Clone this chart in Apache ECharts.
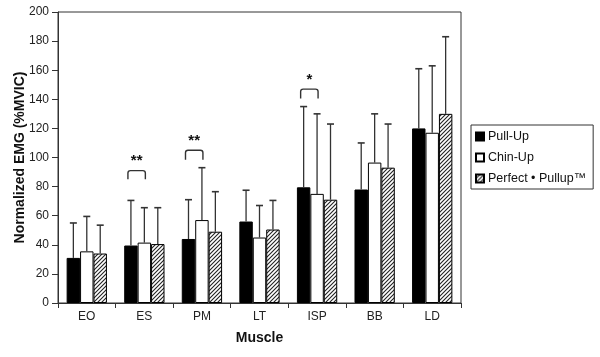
<!DOCTYPE html>
<html><head><meta charset="utf-8">
<script src="https://cdn.jsdelivr.net/npm/echarts@6/dist/echarts.min.js"></script>
<style>html,body{margin:0;padding:0;background:#fff}#c{width:600px;height:357px}</style>
</head><body><div id="c"></div>
<script>
const categories = ['EO','ES','PM','LT','ISP','BB','LD'];
const seriesNames = ['Pull-Up','Chin-Up','Perfect \u2022 Pullup\u2122'];
const pullUp = [31, 39.5, 44, 56, 79.5, 78, 120];
const chinUp = [35.5, 41.5, 57, 45, 75, 96.5, 117];
const perfect = [34, 40.5, 49, 50.5, 71, 93, 130];
const pullUpErr = [55, 70.5, 71, 77.5, 135, 110, 161];
const chinUpErr = [59.5, 65.5, 93, 67, 130, 130, 163];
const perfectErr = [53.5, 65.5, 76.5, 70.5, 123, 123, 183];
// significance brackets
const sigCats = [1, 2, 4];
const sigTop = [91, 105, 147];
const sigBottom = [85, 98.5, 140.5];
const sigLabels = ['**', '**', '*'];
const yTicks = {min: 0, max: 200, interval: 20};

const hatch = document.createElement('canvas');
hatch.width = 4; hatch.height = 4;
(function(){
  const g = hatch.getContext('2d');
  g.fillStyle = '#fff'; g.fillRect(0,0,4,4);
  g.strokeStyle = '#222'; g.lineWidth = 1.1;
  g.beginPath();
  g.moveTo(-1,5); g.lineTo(5,-1);
  g.moveTo(-1,1); g.lineTo(1,-1);
  g.moveTo(3,5); g.lineTo(5,3);
  g.stroke();
})();

const fills = ['#000', '#fff', {image: hatch, repeat: 'repeat'}];
const means = [pullUp, chinUp, perfect];
const errs = [pullUpErr, chinUpErr, perfectErr];
const GAP = 0.3;

const series = [];
seriesNames.forEach((n, k) => {
  series.push({
    name: n, type: 'bar', data: means[k],
    barGap: '0%', barCategoryGap: (GAP*100)+'%',
    itemStyle: {color: fills[k], borderColor: '#000', borderWidth: 1},
    z: 2
  });
});
seriesNames.forEach((n, k) => {
  series.push({
    type: 'custom', z: 3, silent: true,
    data: categories.map((c, i) => [i, means[k][i], errs[k][i]]),
    renderItem: function(params, api){
      const bw = api.size([1,0])[0];
      const barW = bw*(1-GAP)/3;
      const off = (k-1)*barW;
      const p0 = api.coord([api.value(0), api.value(1)]);
      const p1 = api.coord([api.value(0), api.value(2)]);
      const x = p0[0] + off;
      return {type: 'group', children: [
        {type: 'line', shape: {x1: x, y1: p0[1], x2: x, y2: p1[1]}, style: {stroke: '#333', lineWidth: 1.3}},
        {type: 'line', shape: {x1: x-3.5, y1: p1[1], x2: x+3.5, y2: p1[1]}, style: {stroke: '#333', lineWidth: 1.6}}
      ]};
    }
  });
});
series.push({
  type: 'custom', z: 4, silent: true,
  data: sigCats.map((c, i) => [c, sigTop[i], sigBottom[i]]),
  renderItem: function(params, api){
    const bw = api.size([1,0])[0];
    const barW = bw*(1-GAP)/3;
    const c = api.coord([api.value(0), api.value(1)]);
    const b = api.coord([api.value(0), api.value(2)]);
    const x1 = c[0] - barW - 3, x2 = c[0] + 1;
    const yt = c[1], yb = b[1];
    return {type: 'group', children: [
      {type: 'path', shape: {pathData: `M${x1} ${yb} L${x1} ${yt+2.5} Q${x1} ${yt} ${x1+2.5} ${yt} L${x2-2.5} ${yt} Q${x2} ${yt} ${x2} ${yt+2.5} L${x2} ${yb}`},
        style: {stroke: '#333', lineWidth: 1.4, fill: null}},
      {type: 'text', style: {text: sigLabels[params.dataIndex], x: (x1+x2)/2, y: yt-2, align: 'center', verticalAlign: 'bottom',
        font: 'bold 15px "Liberation Sans", Arial, sans-serif', fill: '#111'}}
    ]};
  }
});

const chart = echarts.init(document.getElementById('c'));
chart.setOption({
  animation: false,
  textStyle: {fontFamily: '"Liberation Sans", Arial, sans-serif'},
  grid: {left: 58, right: 139, top: 12, bottom: 54, show: true, borderColor: '#333', borderWidth: 1, backgroundColor: 'transparent'},
  legend: {
    data: seriesNames, orient: 'vertical', left: 471, top: 125,
    icon: 'rect', itemWidth: 8, itemHeight: 8, itemGap: 6,
    borderColor: '#333', borderWidth: 1, padding: [4, 7, 3, 4],
    textStyle: {fontSize: 12.5, color: '#111', lineHeight: 15, padding: [0,0,0,-1]}
  },
  xAxis: {
    type: 'category', data: categories,
    name: 'Muscle', nameLocation: 'middle', nameGap: 28, nameMoveOverlap: false,
    nameTextStyle: {fontSize: 14, fontWeight: 'bold', color: '#111'},
    axisLine: {lineStyle: {color: '#333', width: 1}},
    axisTick: {show: true, length: 5, lineStyle: {color: '#333'}},
    axisLabel: {fontSize: 12, color: '#222', margin: 8}
  },
  yAxis: {
    type: 'value', min: yTicks.min, max: yTicks.max, interval: yTicks.interval,
    name: 'Normalized EMG (%MVIC)', nameLocation: 'middle', nameGap: 31, nameMoveOverlap: false,
    nameTextStyle: {fontSize: 14, fontWeight: 'bold', color: '#111'},
    axisLine: {show: true, lineStyle: {color: '#333', width: 1}},
    axisTick: {show: true, length: 6, lineStyle: {color: '#333'}},
    axisLabel: {fontSize: 12, color: '#222', margin: 9},
    splitLine: {show: false}
  },
  series: series
});
</script></body></html>
